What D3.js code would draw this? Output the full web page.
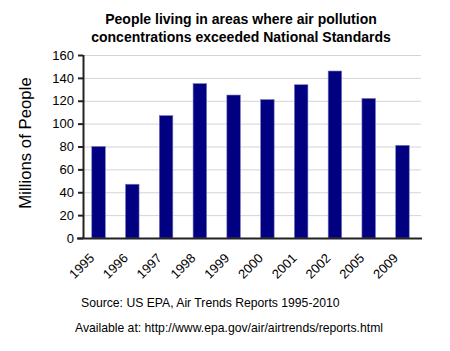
<!DOCTYPE html>
<html>
<head>
<meta charset="utf-8">
<script src="https://cdn.jsdelivr.net/npm/d3@7"></script>
<style>
  body { margin: 0; background: #fff; }
  text { font-family: "Liberation Sans", Arial, sans-serif; }
</style>
</head>
<body>
<svg></svg>
<script>
// Data
const years = ["1995", "1996", "1997", "1998", "1999", "2000", "2001", "2002", "2005", "2009"];
const people = [80, 47, 107, 135, 125, 121, 134, 146, 122, 81];
const yTicks = [0, 20, 40, 60, 80, 100, 120, 140, 160];

const svgWidth = 450;
const svgHeight = 351;
const margin = { top: 55, right: 29, bottom: 113, left: 83 };
const w = svgWidth - margin.left - margin.right;
const h = svgHeight - margin.top - margin.bottom;

const root = d3.select("svg")
    .attr("width", svgWidth)
    .attr("height", svgHeight);

const svg = root.append("g")
    .attr("transform", `translate(${margin.left}, ${margin.top})`);

// Scales
const xScale = d3.scaleBand()
    .domain(years)
    .range([0, w - 3])
    .paddingInner(0.6)
    .paddingOuter(0.26);

const yScale = d3.scaleLinear()
    .domain([0, 160])
    .range([h, 0]);

// Gridlines
svg.selectAll(".grid")
    .data(yTicks.filter(d => d > 0))
    .enter()
    .append("line")
    .attr("class", "grid")
    .attr("x1", 0)
    .attr("x2", w)
    .attr("y1", d => yScale(d) + 0.5)
    .attr("y2", d => yScale(d) + 0.5)
    .attr("stroke", "#d4d4d4")
    .attr("stroke-width", 1);

// Bars
svg.selectAll(".bar")
    .data(people)
    .enter()
    .append("rect")
    .attr("class", "bar")
    .attr("x", (d, i) => xScale(years[i]))
    .attr("y", d => yScale(d))
    .attr("width", xScale.bandwidth())
    .attr("height", d => h - yScale(d))
    .attr("fill", "#000080")
    .attr("stroke", "#7777bb")
    .attr("stroke-width", 0.6);

// Y axis
const yAxis = d3.axisLeft(yScale).tickValues(yTicks).tickSize(5).tickPadding(4);
const gy = svg.append("g")
    .attr("class", "y-axis")
    .call(yAxis);
gy.select(".domain").attr("stroke", "#222").attr("stroke-width", 2).attr("d", `M0.5,0V${h}`);
gy.selectAll(".tick line").attr("stroke", "#222").attr("stroke-width", 2);
gy.selectAll("text")
    .attr("font-size", "13px")
    .attr("fill", "#000")
    .attr("font-family", "Liberation Sans, Arial, sans-serif");

// X axis
const xAxis = d3.axisBottom(xScale).tickSize(0);
const gx = svg.append("g")
    .attr("class", "x-axis")
    .attr("transform", `translate(0, ${h})`)
    .call(xAxis);
gx.select(".domain").attr("stroke", "#222").attr("stroke-width", 2).attr("d", `M-6,0.5H${w + 1}`);
gx.selectAll("text")
    .attr("font-size", "13px")
    .attr("fill", "#000")
    .attr("font-family", "Liberation Sans, Arial, sans-serif")
    .attr("text-anchor", "end")
    .attr("x", 0)
    .attr("y", 0)
    .attr("dy", 0)
    .attr("transform", "translate(-3.5, 21) rotate(-45)");

// Y axis title
root.append("text")
    .attr("transform", "translate(31, 143) rotate(-90)")
    .attr("text-anchor", "middle")
    .attr("font-size", "16.8px")
    .attr("fill", "#000")
    .text("Millions of People");

// Title
const title = root.append("text")
    .attr("text-anchor", "middle")
    .attr("font-size", "14px")
    .attr("font-weight", "bold")
    .attr("fill", "#000");
title.append("tspan").attr("x", 241).attr("y", 24).text("People living in areas where air pollution");
title.append("tspan").attr("x", 241).attr("y", 42).text("concentrations exceeded National Standards");

// Source notes
root.append("text")
    .attr("x", 81)
    .attr("y", 307)
    .attr("font-size", "12.2px")
    .attr("fill", "#000")
    .text("Source: US EPA, Air Trends Reports 1995-2010");

root.append("text")
    .attr("x", 75)
    .attr("y", 332)
    .attr("font-size", "12.2px")
    .attr("fill", "#000")
    .text("Available at: http://www.epa.gov/air/airtrends/reports.html");
</script>
</body>
</html>
